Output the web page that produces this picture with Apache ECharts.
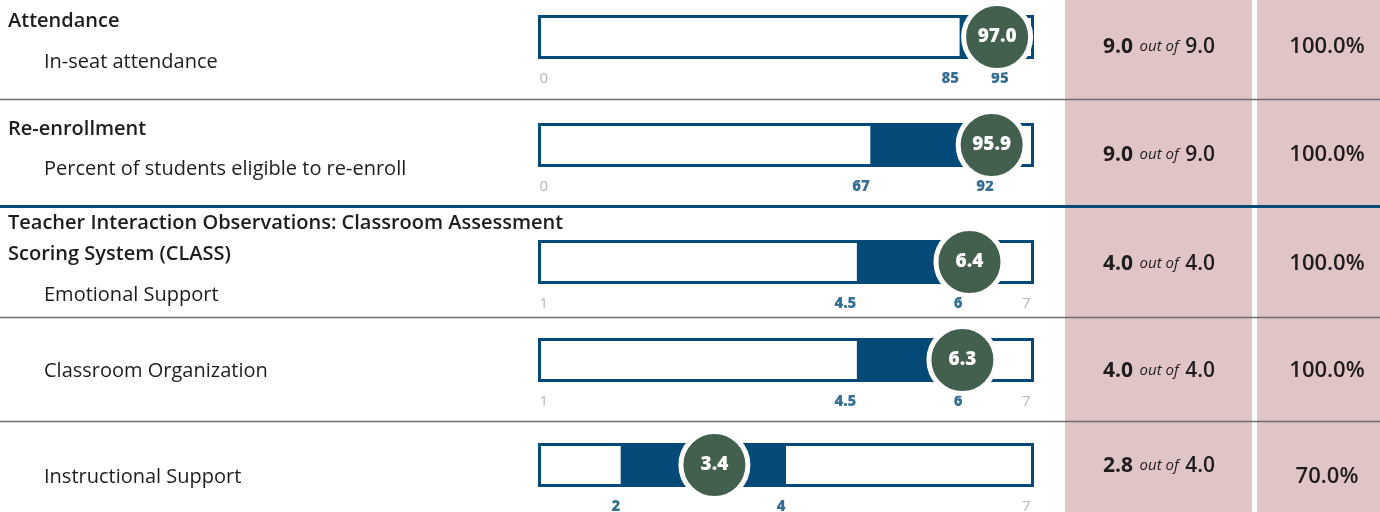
<!DOCTYPE html>
<html><head><meta charset="utf-8">
<script src="https://cdn.jsdelivr.net/npm/echarts@6/dist/echarts.min.js"></script>
<style>html,body{margin:0;padding:0;background:#fff}#c{width:1380px;height:512px}</style>
</head><body><div id="c"></div>
<script>
// ---- data ----
const groupTitles = [
  ['Attendance'],
  ['Re-enrollment'],
  ['Teacher Interaction Observations: Classroom Assessment', 'Scoring System (CLASS)']
];
const measures = ['In-seat attendance', 'Percent of students eligible to re-enroll', 'Emotional Support', 'Classroom Organization', 'Instructional Support'];
const values = [97.0, 95.9, 6.4, 6.3, 3.4];
const lowTargets = [85, 67, 4.5, 4.5, 2];
const highTargets = [95, 92, 6, 6, 4];
const scaleMin = [0, 0, 0, 0, 1];
const scaleMax = [100, 100, 7, 7, 7];
const minLabels = ['0', '0', '1', '1', ''];
const maxLabels = ['', '', '7', '7', '7'];
const pointsEarned = [9.0, 9.0, 4.0, 4.0, 2.8];
const pointsPossible = [9.0, 9.0, 4.0, 4.0, 4.0];
const percentEarned = [100.0, 100.0, 100.0, 100.0, 70.0];

// ---- layout ----
const FONT = '"Open Sans", "Noto Sans", sans-serif';
const BLUE = '#044a79';
const INK = '#1f1c1d';
const rowCenters = [37, 145, 262, 360, 465];
const titleY = [[21], [129], [223, 254]];
const measureY = [62, 169, 295, 371, 477];
const pointsY = [47, 155, 264, 371, 466];
const pctY = [47, 155, 264, 371, 477];
const barLeft = 538, barWidth = 496, barH = 44;

const chart = echarts.init(document.getElementById('c'), null, {renderer: 'canvas'});

const grids = [], xAxes = [], yAxes = [], series = [];
rowCenters.forEach((cy, i) => {
  grids.push({left: barLeft, width: barWidth, top: cy - barH / 2, height: barH});
  xAxes.push({type: 'value', gridIndex: i, min: scaleMin[i], max: scaleMax[i], show: false});
  yAxes.push({type: 'value', gridIndex: i, min: -1, max: 1, show: false});
  // bar frame + target band
  series.push({
    type: 'custom', xAxisIndex: i, yAxisIndex: i, z: 2, silent: true,
    encode: {x: [0, 1], y: 2},
    data: [[lowTargets[i], highTargets[i], 0]],
    renderItem: (params, api) => {
      const cs = params.coordSys;
      const x0 = api.coord([scaleMin[i], 0])[0];
      const x1 = api.coord([scaleMax[i], 0])[0];
      const a = api.coord([api.value(0), 0])[0];
      const b = api.coord([api.value(1), 0])[0];
      return {type: 'group', children: [
        {type: 'rect', shape: {x: x0 + 1.5, y: cs.y + 1.5, width: x1 - x0 - 3, height: cs.height - 3},
          style: {fill: '#fff', stroke: BLUE, lineWidth: 3}},
        {type: 'rect', shape: {x: a, y: cs.y, width: b - a, height: cs.height},
          style: {fill: BLUE}}
      ]};
    }
  });
  // target labels
  series.push({
    type: 'scatter', xAxisIndex: i, yAxisIndex: i, z: 3, silent: true, clip: false,
    symbolSize: 1, itemStyle: {color: 'rgba(0,0,0,0)'},
    data: [[lowTargets[i], 0], [highTargets[i], 0]],
    label: {show: true, position: [0, 42], align: 'right', verticalAlign: 'middle',
      formatter: p => String(p.value[0]), color: BLUE, fontWeight: 800, fontSize: 15, fontFamily: FONT}
  });
  // scale end labels
  const ends = [];
  if (minLabels[i]) ends.push({value: [scaleMin[i], 0], label: {align: 'left', position: [2, 42], formatter: minLabels[i]}});
  if (maxLabels[i]) ends.push({value: [scaleMax[i], 0], label: {align: 'right', position: [-3, 42], formatter: maxLabels[i]}});
  series.push({
    type: 'scatter', xAxisIndex: i, yAxisIndex: i, z: 3, silent: true, clip: false,
    symbolSize: 1, itemStyle: {color: 'rgba(0,0,0,0)'},
    data: ends,
    label: {show: true, verticalAlign: 'middle', color: '#a5a5a5', fontSize: 15, fontFamily: FONT}
  });
  // value circle
  series.push({
    type: 'scatter', xAxisIndex: i, yAxisIndex: i, z: 5, silent: true, clip: false,
    symbol: 'circle', symbolSize: 67, symbolOffset: [-22, 0],
    itemStyle: {color: '#43604f', borderColor: '#fff', borderWidth: 5, opacity: 1},
    data: [[values[i], 0]],
    label: {show: true, position: 'inside', formatter: p => p.value[0].toFixed(1),
      color: '#fff', fontWeight: 800, fontSize: 19, fontFamily: FONT}
  });
});

// ---- static page elements (backgrounds, text) ----
const graphic = [];
graphic.push({type: 'rect', z: -10, shape: {x: 1065, y: 0, width: 187, height: 512}, style: {fill: '#dfc5c6'}});
graphic.push({type: 'rect', z: -10, shape: {x: 1257, y: 0, width: 123, height: 512}, style: {fill: '#dfc5c6'}});
[99.5, 317.5, 421.5].forEach(y => graphic.push({type: 'line', z: -5, shape: {x1: 0, y1: y, x2: 1380, y2: y}, style: {stroke: '#6e6e6e', lineWidth: 1.5}}));
graphic.push({type: 'line', z: -5, shape: {x1: 0, y1: 206.5, x2: 1380, y2: 206.5}, style: {stroke: BLUE, lineWidth: 3}});

groupTitles.forEach((lines, g) => lines.forEach((t, k) => graphic.push({
  type: 'text', z: 10, style: {text: t, x: 8, y: titleY[g][k], verticalAlign: 'middle',
    font: '600 20px ' + FONT, fill: INK}
})));
measures.forEach((t, i) => graphic.push({
  type: 'text', z: 10, style: {text: t, x: 44, y: measureY[i], verticalAlign: 'middle',
    font: '20px ' + FONT, fill: INK}
}));
pointsEarned.forEach((v, i) => graphic.push({
  type: 'text', z: 10, style: {
    text: '{b|' + v.toFixed(1) + '}  {i|out of}  {n|' + pointsPossible[i].toFixed(1) + '}',
    x: 1159, y: pointsY[i], align: 'center', verticalAlign: 'middle',
    rich: {
      b: {fontFamily: FONT, fontWeight: 'bold', fontSize: 21, fill: INK, verticalAlign: 'middle'},
      i: {fontFamily: FONT, fontStyle: 'italic', fontSize: 15, fill: INK, verticalAlign: 'middle'},
      n: {fontFamily: FONT, fontWeight: 600, fontSize: 21, fill: INK, verticalAlign: 'middle'}
    }
  }
}));
percentEarned.forEach((v, i) => graphic.push({
  type: 'text', z: 10, style: {text: v.toFixed(1) + '%', x: 1327, y: pctY[i], align: 'center', verticalAlign: 'middle',
    font: '600 22px ' + FONT, fill: INK}
}));

chart.setOption({
  animation: false,
  grid: grids, xAxis: xAxes, yAxis: yAxes, series: series,
  graphic: graphic
});
</script></body></html>
